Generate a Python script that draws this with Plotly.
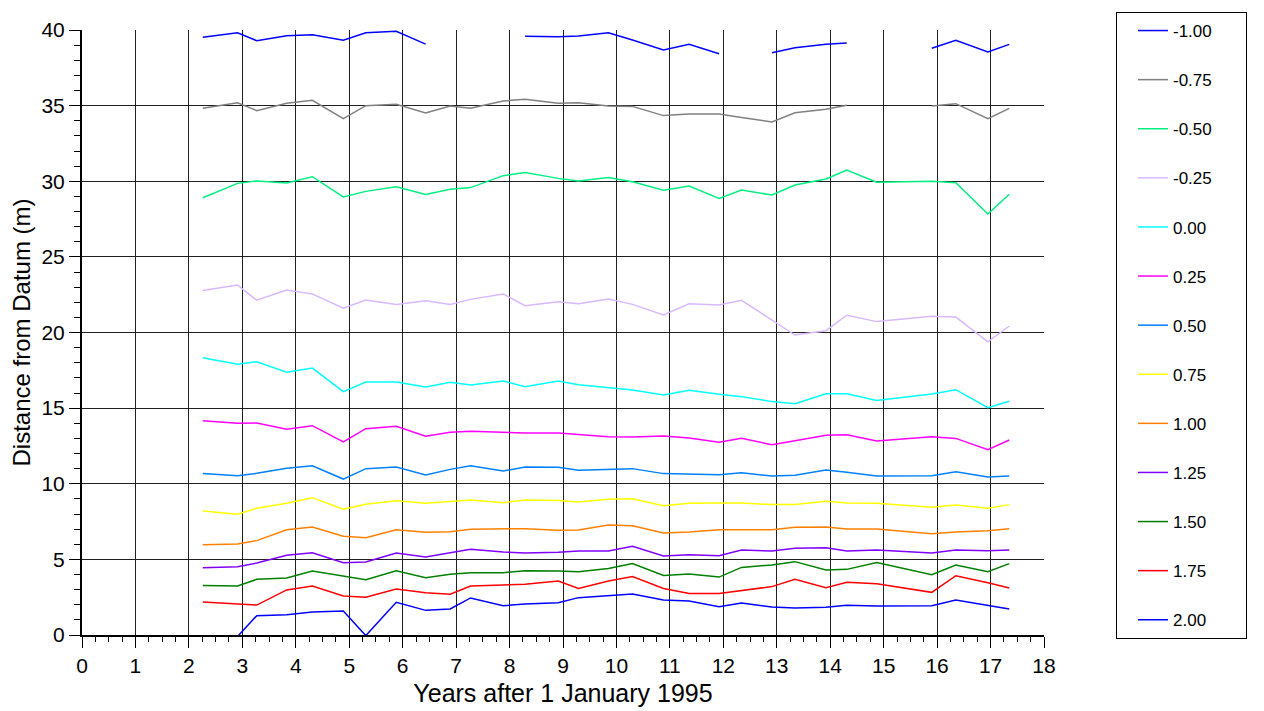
import plotly.graph_objects as go

# Survey times (years after 1 January 1995)
years = [2.26, 2.91, 3.27, 3.83, 4.31, 4.89, 5.31, 5.88, 6.43, 6.89,
         7.27, 7.88, 8.29, 8.91, 9.29, 9.85, 10.30, 10.88, 11.36, 11.92,
         12.34, 12.91, 13.34, 13.92, 14.31, 14.87, 15.90, 16.35, 16.95, 17.35]

# Contour levels and their line colours
levels = ["-1.00", "-0.75", "-0.50", "-0.25", "0.00", "0.25", "0.50",
          "0.75", "1.00", "1.25", "1.50", "1.75", "2.00"]
colors = ["#0000FF", "#808080", "#00F080", "#D8B8FF", "#00FFFF", "#FF00FF",
          "#0080FF", "#FFFF00", "#FF8000", "#8000FF", "#008000", "#FF0000",
          "#0000FF"]

# Distance from datum (m) for each contour level; None = not surveyed
d_m100 = [39.52, 39.82, 39.29, 39.62, 39.69, 39.32, 39.82, 39.91, 39.07, None,
          None, None, 39.58, 39.56, 39.60, 39.82, 39.34, 38.68, 39.05, 38.43,
          None, 38.50, 38.83, 39.05, 39.14, None, 38.79, 39.32, 38.55, 39.05]
d_m075 = [34.82, 35.19, 34.67, 35.15, 35.35, 34.14, 35.00, 35.09, 34.51, 34.98,
          34.82, 35.31, 35.42, 35.15, 35.19, 34.98, 34.95, 34.34, 34.45, 34.45,
          34.22, 33.92, 34.53, 34.76, 35.02, None, 34.98, 35.13, 34.14, 34.82]
d_m050 = [28.91, 29.86, 30.02, 29.88, 30.30, 28.96, 29.33, 29.64, 29.12, 29.47,
          29.58, 30.37, 30.57, 30.19, 30.02, 30.24, 29.97, 29.40, 29.69, 28.87,
          29.42, 29.09, 29.75, 30.15, 30.74, 29.93, 30.00, 29.90, 27.83, 29.14]
d_m025 = [22.77, 23.14, 22.13, 22.81, 22.55, 21.60, 22.15, 21.86, 22.10, 21.86,
          22.19, 22.55, 21.77, 22.04, 21.90, 22.21, 21.86, 21.16, 21.90, 21.82,
          22.13, 20.83, 19.83, 20.12, 21.14, 20.72, 21.07, 21.02, 19.39, 20.43]
d_000 = [18.33, 17.90, 18.07, 17.37, 17.65, 16.09, 16.73, 16.73, 16.40, 16.71,
         16.53, 16.79, 16.42, 16.79, 16.55, 16.35, 16.20, 15.87, 16.18, 15.91,
         15.76, 15.43, 15.29, 15.95, 15.95, 15.51, 15.93, 16.22, 15.03, 15.45]
d_025 = [14.17, 14.00, 14.02, 13.60, 13.84, 12.76, 13.64, 13.80, 13.14, 13.40,
         13.47, 13.38, 13.36, 13.36, 13.27, 13.11, 13.09, 13.16, 13.02, 12.74,
         13.00, 12.58, 12.85, 13.20, 13.24, 12.83, 13.11, 13.00, 12.25, 12.89]
d_050 = [10.67, 10.53, 10.69, 11.02, 11.19, 10.31, 11.00, 11.11, 10.58, 10.95,
         11.19, 10.84, 11.11, 11.09, 10.89, 10.95, 11.00, 10.67, 10.64, 10.60,
         10.73, 10.51, 10.56, 10.91, 10.76, 10.51, 10.53, 10.80, 10.45, 10.51]
d_075 = [8.20, 7.98, 8.38, 8.71, 9.08, 8.31, 8.64, 8.88, 8.71, 8.81,
         8.93, 8.75, 8.93, 8.90, 8.79, 8.97, 9.01, 8.55, 8.71, 8.73,
         8.73, 8.62, 8.62, 8.84, 8.73, 8.71, 8.44, 8.60, 8.38, 8.62]
d_100 = [5.97, 6.02, 6.24, 6.96, 7.14, 6.53, 6.43, 6.96, 6.79, 6.83,
         6.99, 7.01, 7.03, 6.92, 6.94, 7.27, 7.23, 6.74, 6.81, 6.96,
         6.94, 6.96, 7.12, 7.14, 7.01, 7.01, 6.70, 6.81, 6.90, 7.03]
d_125 = [4.45, 4.52, 4.76, 5.27, 5.44, 4.78, 4.83, 5.42, 5.16, 5.44,
         5.67, 5.49, 5.42, 5.47, 5.55, 5.55, 5.86, 5.22, 5.31, 5.24,
         5.62, 5.55, 5.73, 5.77, 5.55, 5.62, 5.42, 5.62, 5.57, 5.62]
d_150 = [3.28, 3.24, 3.68, 3.77, 4.23, 3.92, 3.66, 4.25, 3.79, 4.01,
         4.12, 4.12, 4.25, 4.23, 4.19, 4.39, 4.72, 3.94, 4.03, 3.83,
         4.47, 4.63, 4.85, 4.30, 4.34, 4.80, 3.99, 4.63, 4.19, 4.72]
d_175 = [2.18, 2.03, 1.98, 2.98, 3.24, 2.58, 2.49, 3.04, 2.80, 2.69,
         3.24, 3.31, 3.35, 3.57, 3.08, 3.57, 3.86, 3.08, 2.75, 2.75,
         2.93, 3.20, 3.68, 3.13, 3.48, 3.39, 2.82, 3.92, 3.46, 3.11]
d_200 = [-0.10, -0.10, 1.28, 1.34, 1.52, 1.59, -0.04, 2.16, 1.63, 1.72,
         2.45, 1.94, 2.05, 2.14, 2.47, 2.62, 2.71, 2.31, 2.25, 1.87,
         2.12, 1.85, 1.79, 1.83, 1.96, 1.92, 1.94, 2.31, 1.96, 1.72]

series = [d_m100, d_m075, d_m050, d_m025, d_000, d_025, d_050,
          d_075, d_100, d_125, d_150, d_175, d_200]

FONT = "Liberation Sans, Arial, sans-serif"
PAD = "\u00a0" * 6  # trailing space to widen the legend box

fig = go.Figure()
for name, col, vals in zip(levels, colors, series):
    fig.add_trace(go.Scatter(
        x=years, y=vals, name=name + PAD, mode="lines",
        line=dict(color=col, width=1.5),
        connectgaps=False, legendgroup=name,
    ))

axis_common = dict(
    showline=True, linecolor="black", linewidth=2,
    ticks="outside", ticklen=11, tickwidth=1, tickcolor="black",
    showgrid=True, gridcolor="#202020", gridwidth=1,
    zeroline=False,
    tickfont=dict(family=FONT, size=21, color="black"),
)

fig.update_xaxes(
    range=[0, 18], tick0=0, dtick=1,
    minor=dict(dtick=0.25, ticks="outside", ticklen=5, tickcolor="black",
               tickwidth=1, showgrid=False),
    title=dict(text="Years after 1 January 1995",
               font=dict(family=FONT, size=25, color="black"), standoff=8),
    **axis_common,
)
fig.update_yaxes(
    range=[0, 40], tick0=0, dtick=5,
    minor=dict(dtick=1, ticks="outside", ticklen=6, tickcolor="black",
               tickwidth=1, showgrid=False),
    title=dict(text="Distance from Datum (m)",
               font=dict(family=FONT, size=24, color="black"), standoff=4),
    **axis_common,
)

fig.update_layout(
    width=1264, height=711,
    margin=dict(l=82, r=220, t=30, b=76, autoexpand=False),
    paper_bgcolor="white", plot_bgcolor="white",
    font=dict(family=FONT, color="black"),
    showlegend=True,
    legend=dict(
        xref="container", yref="container",
        x=1116 / 1264, y=1 - 12 / 711, xanchor="left", yanchor="top",
        bordercolor="black", borderwidth=1, bgcolor="white",
        font=dict(family=FONT, size=17, color="black"),
        tracegroupgap=24, traceorder="grouped",
        itemwidth=30, indentation=16, maxheight=680,
    ),
)

fig.write_html("out.html")
